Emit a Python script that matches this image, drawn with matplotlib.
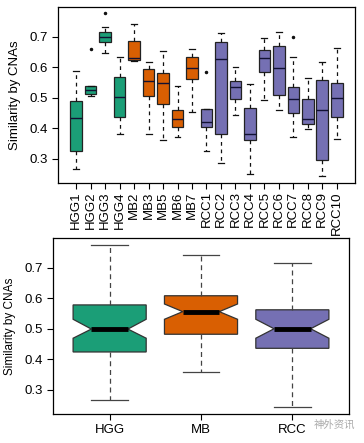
import matplotlib
matplotlib.use("Agg")
import matplotlib.pyplot as plt

plt.rcParams['font.family'] = ['Liberation Sans', 'DejaVu Sans']

# per-sample box statistics (top panel)
samples = ["HGG1", "HGG2", "HGG3", "HGG4", "MB2", "MB3", "MB5", "MB6", "MB7",
           "RCC1", "RCC2", "RCC3", "RCC4", "RCC5", "RCC6", "RCC7", "RCC8", "RCC9", "RCC10"]
sample_group = ["HGG"] * 4 + ["MB"] * 5 + ["RCC"] * 10
whis_lo = [0.268, 0.506, 0.645, 0.383, 0.620, 0.380, 0.361, 0.372, 0.453,
           0.325, 0.285, 0.443, 0.249, 0.492, 0.460, 0.372, 0.399, 0.244, 0.364]
q1 = [0.327, 0.511, 0.684, 0.438, 0.623, 0.507, 0.479, 0.403, 0.561,
      0.403, 0.383, 0.497, 0.361, 0.584, 0.510, 0.451, 0.414, 0.296, 0.436]
med = [0.434, 0.527, 0.698, 0.501, 0.629, 0.556, 0.547, 0.431, 0.597,
       0.422, 0.627, 0.534, 0.383, 0.629, 0.596, 0.497, 0.431, 0.460, 0.499]
q3 = [0.490, 0.540, 0.714, 0.569, 0.685, 0.595, 0.582, 0.460, 0.632,
      0.462, 0.684, 0.556, 0.465, 0.656, 0.669, 0.536, 0.497, 0.558, 0.549]
whis_hi = [0.589, 0.540, 0.731, 0.634, 0.742, 0.616, 0.653, 0.539, 0.660,
           0.462, 0.711, 0.602, 0.544, 0.697, 0.716, 0.634, 0.566, 0.618, 0.664]
outliers = [[], [0.661], [0.777], [], [], [], [], [], [],
            [0.585], [], [], [], [], [], [0.700], [], [], []]

# pooled per tumour type (bottom panel)
groups = ["HGG", "MB", "RCC"]
g_lo = [0.266, 0.359, 0.243]
g_q1 = [0.424, 0.482, 0.436]
g_med = [0.499, 0.556, 0.500]
g_q3 = [0.578, 0.608, 0.562]
g_hi = [0.774, 0.740, 0.714]
g_ci_lo = [0.469, 0.531, 0.469]
g_ci_hi = [0.531, 0.581, 0.531]

colors = {"HGG": "#1b9e77", "MB": "#d95f02", "RCC": "#7570b3"}

W, H = 364, 443
fig = plt.figure(figsize=(W / 100, H / 100), dpi=100)

def px_axes(l, t, r, b):
    return fig.add_axes([l / W, 1 - b / H, (r - l) / W, (b - t) / H])

# ---- top panel ----
ax1 = px_axes(58, 7, 355, 183)
stats = []
for i in range(len(samples)):
    stats.append(dict(label=samples[i], whislo=whis_lo[i], q1=q1[i], med=med[i],
                      q3=q3[i], whishi=whis_hi[i], fliers=outliers[i]))
bp = ax1.bxp(stats, positions=range(1, len(samples) + 1), widths=0.8,
             patch_artist=True, showfliers=True,
             boxprops=dict(edgecolor="#222222", linewidth=0.9),
             medianprops=dict(color="#111133", linewidth=1.0),
             whiskerprops=dict(color="#111111", linewidth=0.9, linestyle=(0, (3, 3))),
             capprops=dict(color="#111111", linewidth=0.9),
             capwidths=0.4,
             flierprops=dict(marker="o", markersize=1.5, markerfacecolor="#111111",
                             markeredgecolor="#111111"))
for patch, g in zip(bp["boxes"], sample_group):
    patch.set_facecolor(colors[g])

ax1.set_xlim(0.5 - 0.76, len(samples) + 0.5 + 0.76)
ax1.set_ylim(0.221, 0.797)
ax1.set_yticks([0.3, 0.4, 0.5, 0.6, 0.7])
ax1.set_xticks(range(1, len(samples) + 1))
ax1.set_xticklabels(samples, rotation=90, fontsize=9.5)
ax1.tick_params(axis="y", labelsize=9.5, length=4, width=0.8)
ax1.tick_params(axis="x", length=4, width=0.8, pad=2)
ax1.set_ylabel("Similarity by CNAs", fontsize=9.5, labelpad=6)
for s in ax1.spines.values():
    s.set_linewidth(0.9)

# ---- bottom panel ----
ax2 = px_axes(53, 238, 349, 414)
gstats = []
for i in range(len(groups)):
    gstats.append(dict(label=groups[i], whislo=g_lo[i], q1=g_q1[i], med=g_med[i],
                       q3=g_q3[i], whishi=g_hi[i], cilo=g_ci_lo[i], cihi=g_ci_hi[i]))
bp2 = ax2.bxp(gstats, positions=range(1, len(groups) + 1), widths=0.8,
              patch_artist=True, shownotches=True, showfliers=False,
              boxprops=dict(edgecolor="#333333", linewidth=0.9),
              medianprops=dict(color="black", linewidth=3.5, solid_capstyle="butt"),
              whiskerprops=dict(color="#444444", linewidth=0.9, linestyle=(0, (4, 3))),
              capprops=dict(color="#444444", linewidth=0.9),
              capwidths=0.4)
for patch, g in zip(bp2["boxes"], groups):
    patch.set_facecolor(colors[g])

ax2.set_xlim(0.38, 3.62)
ax2.set_ylim(0.221, 0.797)
ax2.set_yticks([0.3, 0.4, 0.5, 0.6, 0.7])
ax2.set_xticks(range(1, len(groups) + 1))
ax2.set_xticklabels(groups, fontsize=9.5)
ax2.tick_params(axis="both", labelsize=9.5, length=4, width=0.8)
ax2.set_ylabel("Similarity by CNAs", fontsize=8.5, labelpad=6)
for s in ax2.spines.values():
    s.set_linewidth(0.9)

fig.text(334 / W, 1 - 425 / H, "神外资讯", fontsize=7.5, color="#aaaaaa",
         family=["Noto Sans CJK SC", "DejaVu Sans"], ha="center", va="center")

fig.savefig("out.png", dpi=100)
